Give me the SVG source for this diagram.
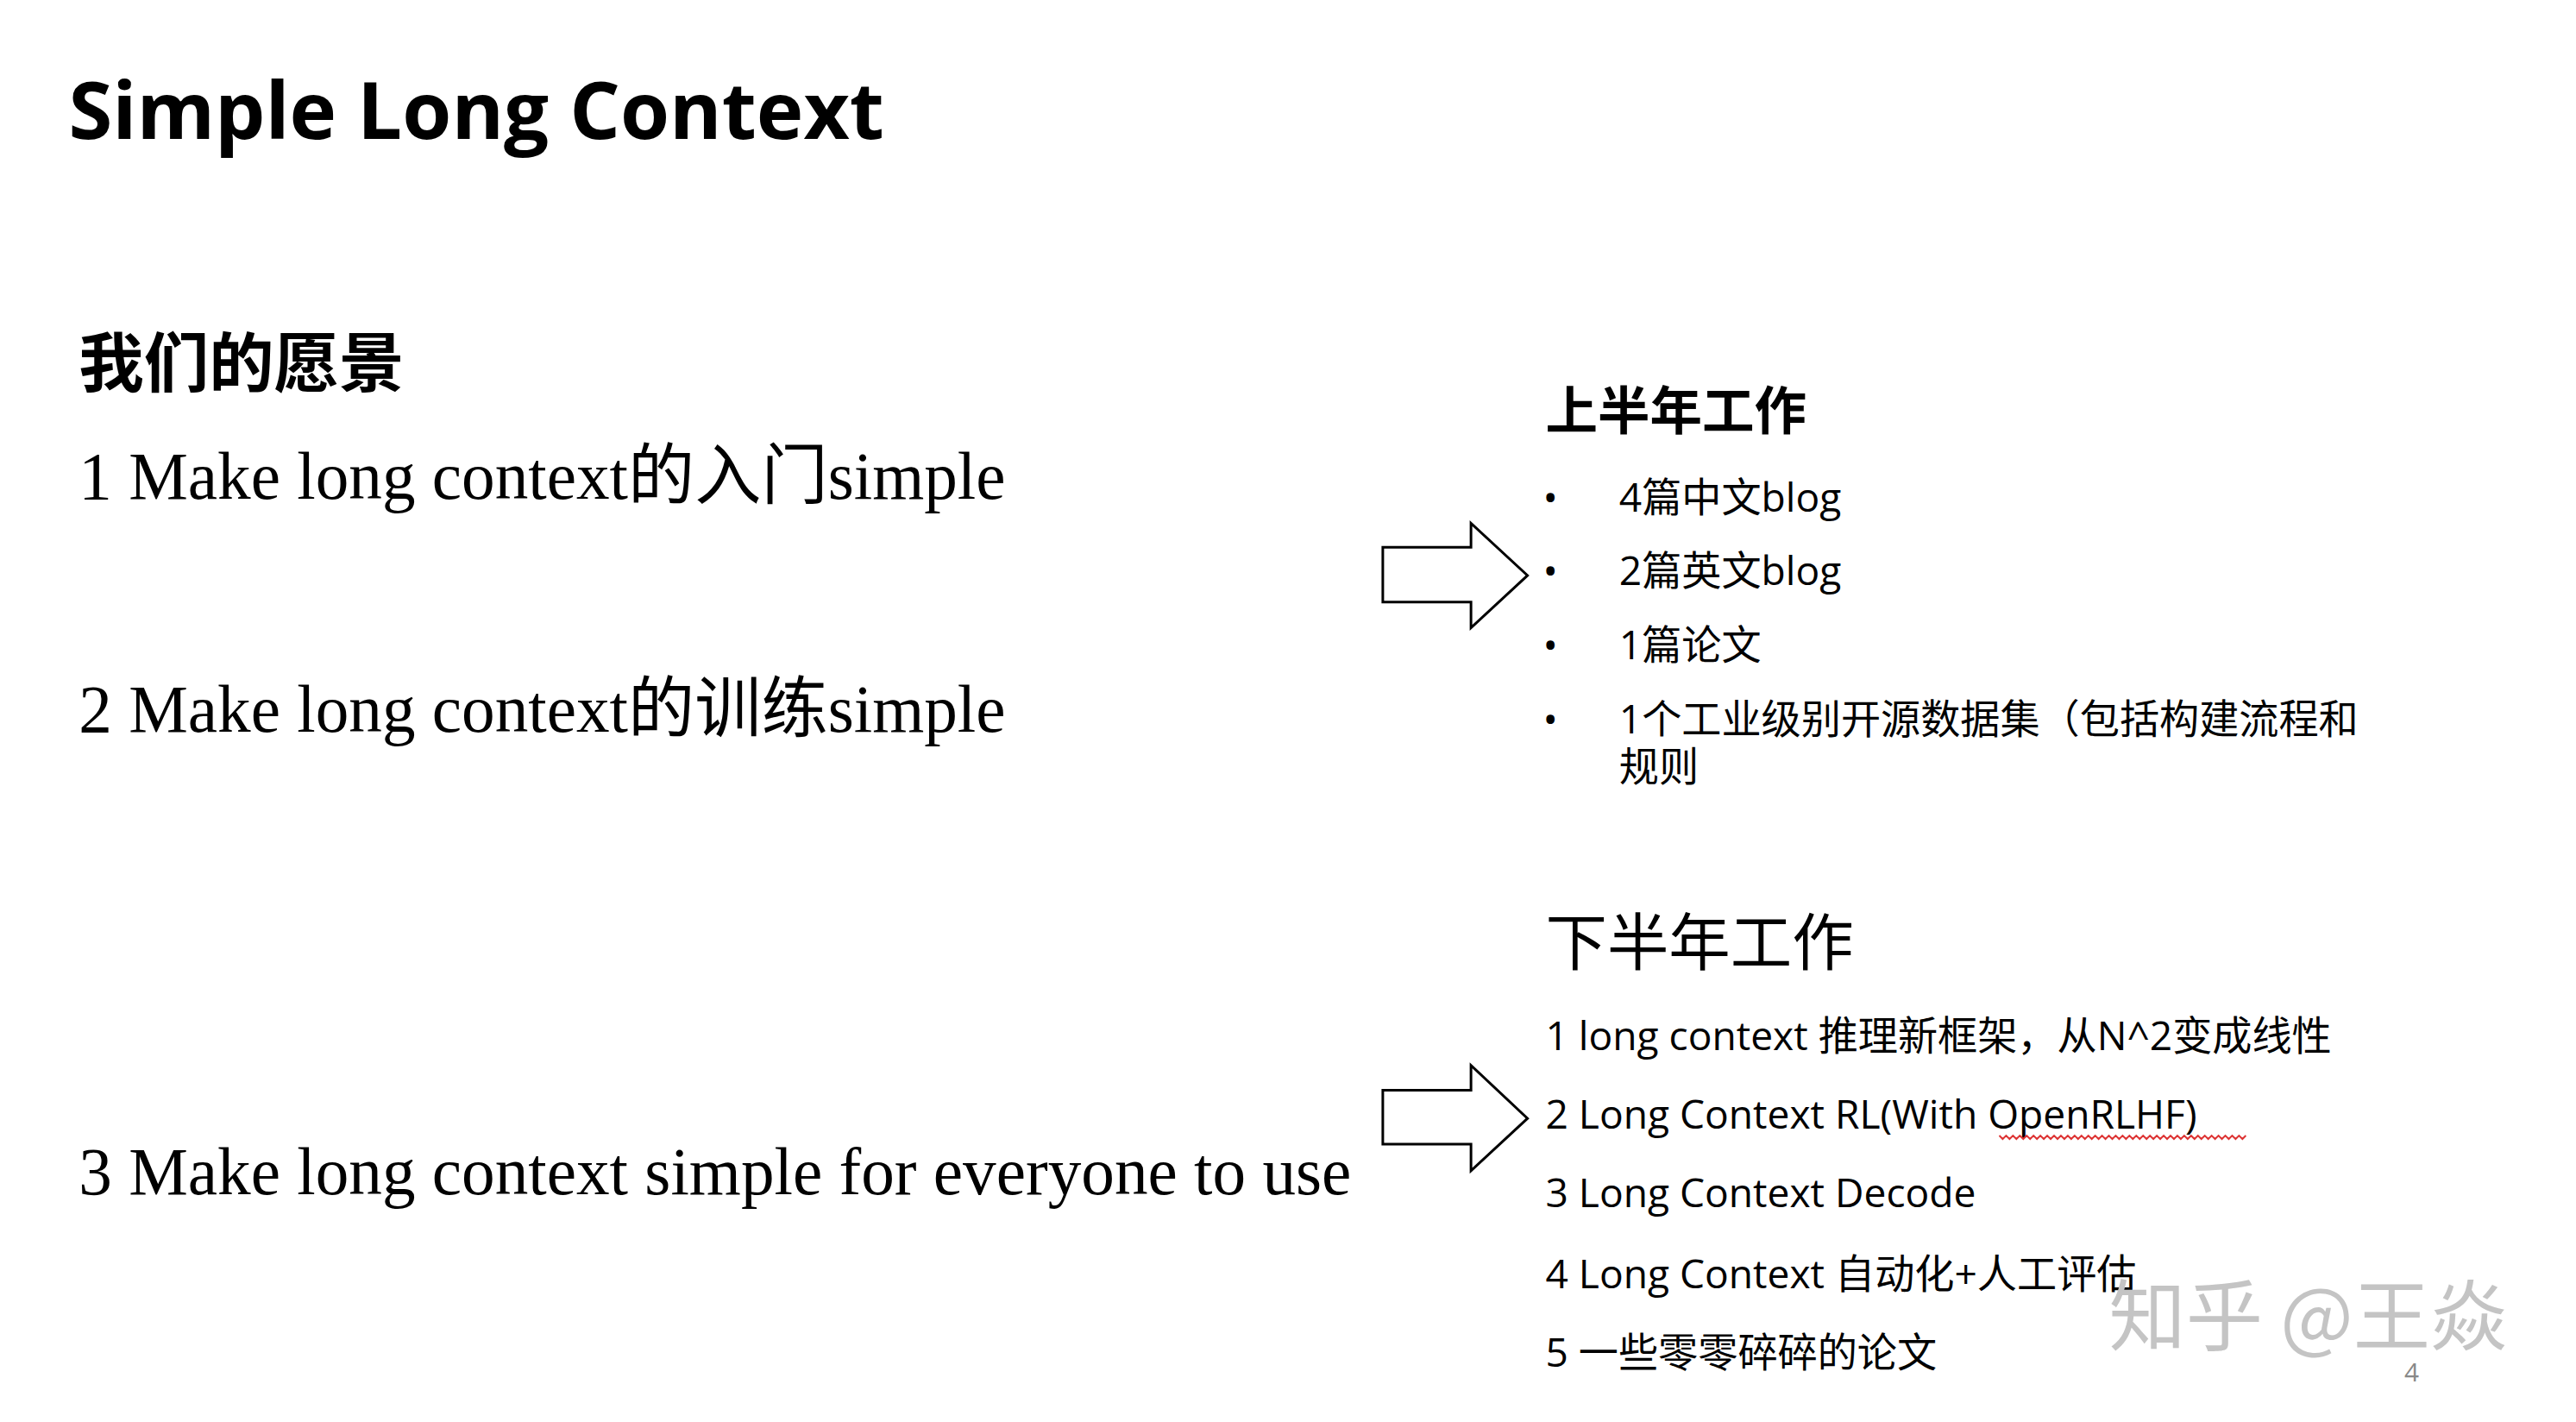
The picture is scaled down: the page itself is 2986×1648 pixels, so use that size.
<svg xmlns="http://www.w3.org/2000/svg" width="2986" height="1648" viewBox="0 0 2986 1648">
<style>
.s{font-family:"Open Sans","Noto Sans","Noto Sans CJK SC",sans-serif;fill:#000}
.r{font-family:"Liberation Serif","Noto Sans CJK SC",serif;font-size:77.8px;fill:#000}
.li{font-family:"Open Sans","Noto Sans CJK SC",sans-serif;font-size:46.5px;fill:#000}
.arr{fill:#fff;stroke:#000;stroke-width:3}
</style>
<rect width="2986" height="1648" fill="#fff"/>
<g transform="scale(0.9925)">
<text class="s" x="80" y="162" font-size="93" font-weight="bold">Simple Long Context</text>
<g id="vision">
<text class="s" x="92" y="451" font-size="76" font-weight="bold">我们的愿景</text>
<text class="r" x="92" y="582">1 Make long context的入门simple</text>
<text class="r" x="92" y="854">2 Make long context的训练simple</text>
<text class="r" x="92" y="1394">3 Make long context simple for everyone to use</text>
</g>
<g id="connectors">
<path class="arr" d="M1615 639H1718V611L1784 672L1718 733V703H1615Z"/>
<path class="arr" d="M1615 1273H1718V1244L1784 1306L1718 1367V1336H1615Z"/>
</g>
<g id="first-half">
<text class="s" x="1805" y="502" font-size="61" font-weight="bold">上半年工作</text>
<g class="li">
<text x="1802" y="597">•</text><text x="1891" y="597">4篇中文blog</text>
<text x="1802" y="683">•</text><text x="1891" y="683">2篇英文blog</text>
<text x="1802" y="770">•</text><text x="1891" y="770">1篇论文</text>
<text x="1802" y="856">•</text><text x="1891" y="856">1个工业级别开源数据集（包括构建流程和</text>
<text x="1891" y="912">规则</text>
</g>
</g>
<g id="second-half">
<text class="s" x="1805" y="1126" font-size="72">下半年工作</text>
<g class="li">
<text x="1805" y="1226">1 long context 推理新框架，从N^2变成线性</text>
<text x="1805" y="1318">2 Long Context RL(With OpenRLHF)</text>
<text x="1805" y="1410">3 Long Context Decode</text>
<text x="1805" y="1504">4 Long Context 自动化+人工评估</text>
<text x="1805" y="1596">5 一些零零碎碎的论文</text>
</g>
<path d="M2335 1326l4 4 4-4 4 4 4-4 4 4 4-4 4 4 4-4 4 4 4-4 4 4 4-4 4 4 4-4 4 4 4-4 4 4 4-4 4 4 4-4 4 4 4-4 4 4 4-4 4 4 4-4 4 4 4-4 4 4 4-4 4 4 4-4 4 4 4-4 4 4 4-4 4 4 4-4 4 4 4-4 4 4 4-4 4 4 4-4 4 4 4-4 4 4 4-4 4 4 4-4 4 4 4-4 4 4 4-4 4 4 4-4 4 4 4-4 4 4 4-4 4 4 4-4 4 4 4-4 4 4 4-4 4 4 4-4 4 4 4-4 4 4 4-4" fill="none" stroke="#d33" stroke-width="2"/>
</g>
<text x="2463" y="1570" font-family="Noto Sans CJK SC,sans-serif" font-size="90" fill="#c4c4c4">知乎 @王焱</text>
<text x="2808" y="1613" font-family="Open Sans,sans-serif" font-size="30" fill="#888">4</text>
</g>
</svg>
